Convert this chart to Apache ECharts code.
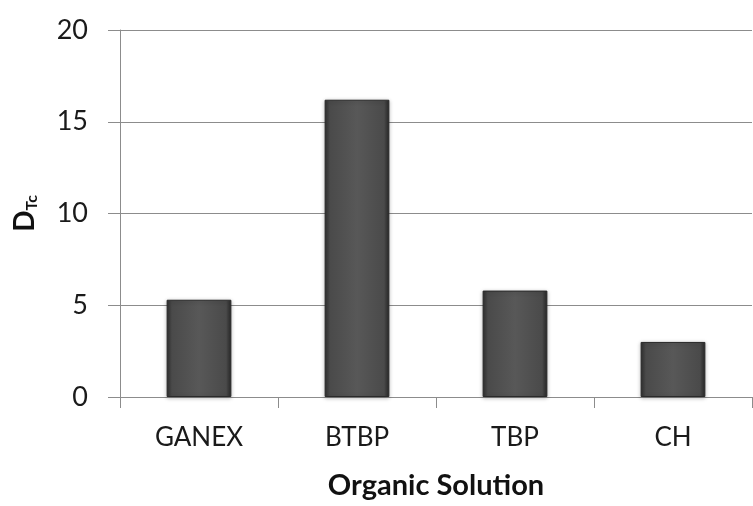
<!DOCTYPE html>
<html><head><meta charset="utf-8">
<script src="https://cdn.jsdelivr.net/npm/echarts@6/dist/echarts.min.js"></script>
<style>html,body{margin:0;padding:0;background:#fff}#c{width:753px;height:506px}</style>
</head><body><div id="c"></div>
<script>
var categories = ["GANEX", "BTBP", "TBP", "CH"];
var dtcValues = [5.3, 16.2, 5.8, 3.0];
var yTicks = [0, 5, 10, 15, 20];

var chart = echarts.init(document.getElementById('c'));
var font = 'Lato, "Open Sans", sans-serif';
var gray = '#8c8c8c';
chart.setOption({
  animation: false,
  grid: {left: 120, right: 1, top: 30, bottom: 109},
  xAxis: {
    type: 'category', data: categories,
    axisLine: {lineStyle: {color: gray, width: 1}},
    axisTick: {show: true, length: 11, lineStyle: {color: gray}},
    axisLabel: {color: '#1a1a1a', fontSize: 26, fontFamily: font, margin: 28},
    name: 'Organic Solution', nameLocation: 'middle', nameGap: 74,
    nameTextStyle: {color: '#111', fontSize: 29, fontWeight: 'bold', fontFamily: font}
  },
  yAxis: {
    type: 'value', min: yTicks[0], max: yTicks[yTicks.length - 1], interval: 5,
    axisLine: {show: true, lineStyle: {color: gray, width: 1}},
    axisTick: {show: true, length: 12, lineStyle: {color: gray}},
    splitLine: {lineStyle: {color: gray, width: 1}},
    axisLabel: {color: '#1a1a1a', fontSize: 27, fontFamily: font, margin: 32},
    name: '{d|D}{s|Tc}', nameLocation: 'middle', nameGap: 80,
    nameTextStyle: {
      rich: {
        d: {fontSize: 28, fontWeight: 'bold', color: '#111', fontFamily: font},
        s: {fontSize: 16, fontWeight: 'bold', color: '#111', fontFamily: font, padding: [14, 0, 0, 0]}
      }
    }
  },
  series: [{
    type: 'bar', data: dtcValues, barWidth: '41%',
    itemStyle: {
      color: new echarts.graphic.LinearGradient(0, 0, 1, 0, [
        {offset: 0, color: '#2e2e2e'},
        {offset: 0.08, color: '#4a4a4a'},
        {offset: 0.5, color: '#585858'},
        {offset: 0.92, color: '#4a4a4a'},
        {offset: 1, color: '#262626'}
      ]),
      borderColor: '#2a2a2a', borderWidth: 1,
      shadowColor: 'rgba(0,0,0,0.25)', shadowBlur: 4, shadowOffsetY: 1
    }
  }]
});
</script></body></html>
